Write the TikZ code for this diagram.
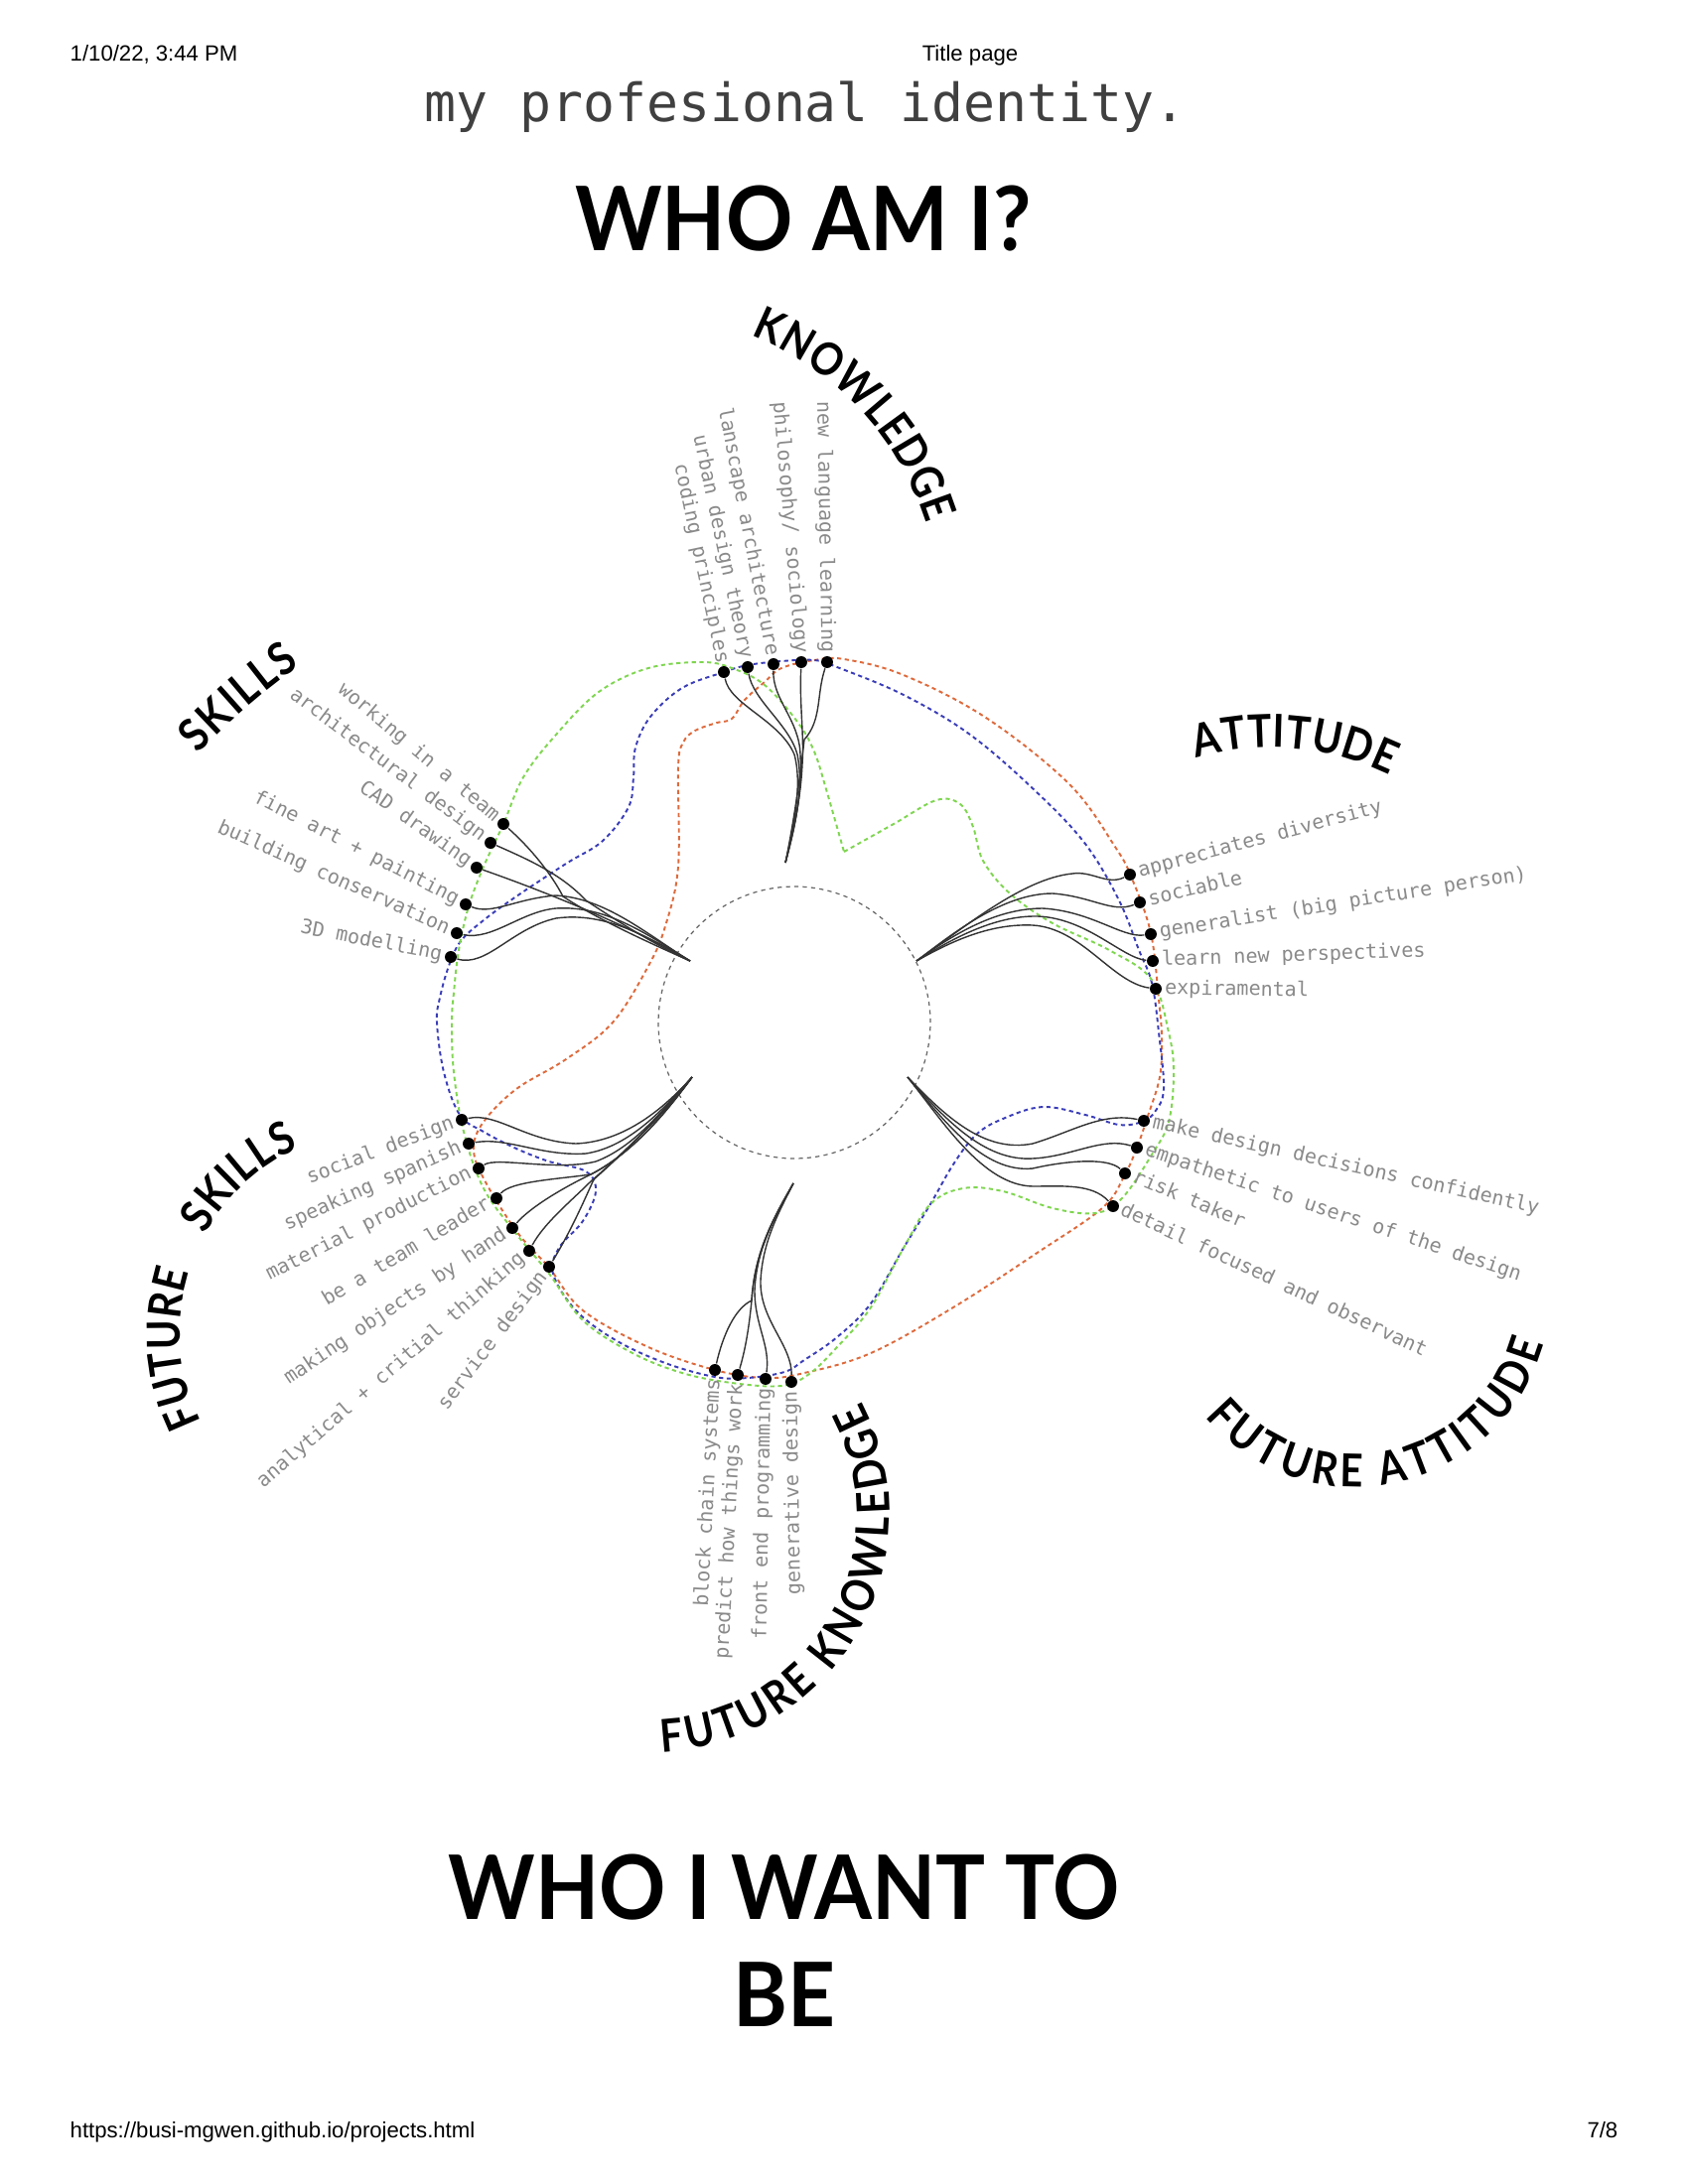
\documentclass[tikz,border=0pt]{standalone}
\usepackage{fontspec}
\setmainfont{Liberation Sans}
\newfontfamily\titlefnt{Lato}
\newfontfamily\arcfnt{Lato}[FakeStretch=0.88]
\newfontfamily\monofnt{DejaVu Sans Mono}
\usetikzlibrary{decorations.text}
\definecolor{bgreen}{HTML}{7FD650}
\definecolor{bblue}{HTML}{3A3DB8}
\definecolor{borange}{HTML}{DE6A3C}
\newcommand\arcfmt{\arcfnt\bfseries\fontsize{13}{15}\selectfont}
\begin{document}
\begin{tikzpicture}[x=0.01cm,y=-0.01cm,
  kdot/.style={circle,fill=black,inner sep=0pt,minimum size=3.4pt},
  lbl/.style={font=\monofnt\fontsize{5.7}{7}\selectfont,text=black!46,inner sep=2.6pt,outer sep=0pt,text height=3.6pt,text depth=0.6pt},
  fan/.style={draw=black!80,line width=0.4pt},
  blob/.style={line width=0.55pt,dash pattern=on 1.2pt off 1pt},
  big/.style={font=\titlefnt\bfseries\fontsize{25.5}{30}\selectfont,xscale=0.93,inner sep=0pt},
  hdr/.style={font=\fontsize{6.3}{8}\selectfont,inner sep=0pt},
  arctext/.style={decorate,decoration={text along path,text align={fit to path},text={|\arcfmt|#1}}}]
\fill[white] (0,0) rectangle (1700,2200);
\useasboundingbox (0,0) rectangle (1700,2200);

% header / footer
\node[hdr,anchor=base west] (date) at (70,62) {1/10/22, 3:44 PM};
\node[hdr,anchor=base] (ttl) at (977,62) {Title page};
\node[hdr,anchor=base west] (url) at (70,2153) {https://busi-mgwen.github.io/projects.html};
\node[hdr,anchor=base east] (pg) at (1630,2153) {7/8};

% titles
\node[font=\monofnt\fontsize{15.1}{18}\selectfont,text=black!75,anchor=base,inner sep=0pt] (sub) at (811,123) {my profesional identity.};
\node[big,anchor=base] (who) at (809,252) {WHO AM I?};
\node[big,anchor=base] (want) at (790,1933) {WHO I WANT TO};
\node[big,anchor=base] (be) at (790,2041) {BE};

% blobs
\draw[blob,borange] plot[smooth cycle,tension=0.6] coordinates {(787,673) (820,665) (850,664) (910,680) (993,723) (1077,790) (1123,853) (1140,885) (1159,940) (1167,1007) (1170,1045) (1168,1085) (1155,1127) (1145,1156) (1132,1185) (1110,1217) (1043,1263) (960,1317) (877,1363) (810,1383) (770,1388) (720,1380) (653,1357) (587,1320) (553,1277) (520,1240) (487,1187) (477,1157) (487,1130) (520,1097) (570,1067) (617,1030) (653,973) (670,933) (683,873) (683,773) (688,748) (700,736) (722,728) (737,724) (750,705) (770,687)};
\draw[blob,bblue] plot[smooth cycle,tension=0.6] coordinates {(687,693) (729,677) (753,670) (787,666) (820,665) (843,672) (910,700) (977,740) (1043,797) (1093,850) (1127,907) (1147,957) (1160,990) (1167,1040) (1172,1097) (1163,1120) (1150,1130) (1127,1133) (1093,1123) (1050,1115) (1010,1127) (983,1143) (960,1173) (937,1213) (910,1257) (877,1313) (843,1347) (810,1370) (790,1382) (753,1388) (720,1387) (670,1373) (620,1350) (580,1320) (557,1283) (563,1257) (587,1230) (600,1200) (590,1180) (553,1170) (520,1157) (487,1140) (463,1123) (447,1080) (440,1030) (443,1005) (452,973) (464,948) (487,927) (520,903) (570,870) (607,847) (633,813) (638,783) (640,753) (655,722)};
\draw[blob,bgreen] plot[smooth,tension=0.6] coordinates {(850,858) (900,830) (943,806) (967,810) (980,833) (990,867) (1017,900) (1060,930) (1117,957) (1160,987) (1177,1040) (1182,1080) (1177,1130) (1160,1163) (1130,1207) (1103,1222) (1060,1217) (1010,1200) (970,1197) (937,1213) (910,1257) (877,1317) (843,1357) (815,1384) (787,1396) (737,1393) (687,1383) (637,1363) (587,1330) (553,1283) (520,1243) (487,1197) (467,1140) (457,1080) (455,1030) (457,1000) (462,957) (472,913) (487,873) (507,830) (527,783) (560,740) (603,697) (653,673) (707,667) (737,673) (770,690) (803,727) (820,757) (832,795) (850,858)};

% core circle
\node[circle,draw=black!60,line width=0.35pt,dash pattern=on 1.2pt off 1.2pt,minimum size=77.9pt,inner sep=0pt] (core) at (800,1030) {};

% ---------- KNOWLEDGE ----------
\node[kdot] (k1) at (729,677) {};
\node[kdot] (k2) at (753,672) {};
\node[kdot] (k3) at (779,669) {};
\node[kdot] (k4) at (807,667) {};
\node[kdot] (k5) at (833,667) {};
\coordinate (kt) at (791,869);
\draw[fan] (k1) .. controls (735,710) and (785,725) .. (800,760) .. controls (808,790) and (800,830) .. (kt);
\draw[fan] (k2) .. controls (758,705) and (795,730) .. (803,760) .. controls (810,795) and (800,835) .. (kt);
\draw[fan] (k3) .. controls (778,705) and (805,725) .. (806,760) .. controls (808,800) and (800,835) .. (kt);
\draw[fan] (k4) .. controls (805,710) and (810,740) .. (808,770) .. controls (806,810) and (798,840) .. (kt);
\draw[fan] (k5) .. controls (822,700) and (828,725) .. (810,745) .. controls (805,790) and (798,835) .. (kt);
\node[lbl,rotate=-78,anchor=east] (k1l) at (k1.center) {coding principles};
\node[lbl,rotate=-78,anchor=east] (k2l) at (k2.center) {urban design theory};
\node[lbl,rotate=-79,anchor=east] (k3l) at (k3.center) {lanscape architecture};
\node[lbl,rotate=-85,anchor=east] (k4l) at (k4.center) {philosophy/ sociology};
\node[lbl,rotate=-89,anchor=east] (k5l) at (k5.center) {new language learning};
\path[arctext=KNOWLEDGE] ([shift={(646,618)}]-68.5:301) arc[start angle=-68.5,end angle=-17.5,radius=301];

% ---------- SKILLS ----------
\node[kdot] (s1) at (507,830) {};
\node[kdot] (s2) at (494,849) {};
\node[kdot] (s3) at (480,874) {};
\node[kdot] (s4) at (469,911) {};
\node[kdot] (s5) at (460,940) {};
\node[kdot] (s6) at (454,964) {};
\coordinate (st) at (695,968);
\draw[fan] (s1) .. controls (535,855) and (555,880) .. (567,903) .. controls (600,925) and (650,948) .. (st);
\draw[fan] (s2) .. controls (530,865) and (565,880) .. (590,907) .. controls (625,930) and (660,952) .. (st);
\draw[fan] (s3) .. controls (540,895) and (630,930) .. (st);
\draw[fan] (s4) .. controls (495,922) and (520,905) .. (560,902) .. controls (610,905) and (650,940) .. (st);
\draw[fan] (s5) .. controls (495,948) and (525,918) .. (560,915) .. controls (610,912) and (650,940) .. (st);
\draw[fan] (s6) .. controls (490,975) and (515,935) .. (560,925) .. controls (610,918) and (655,945) .. (st);
\node[lbl,rotate=-40,anchor=east] (s1l) at (s1.center) {working in a team};
\node[lbl,rotate=-37,anchor=east] (s2l) at (s2.center) {architectural design};
\node[lbl,rotate=-35,anchor=east] (s3l) at (s3.center) {CAD drawing};
\node[lbl,rotate=-27,anchor=east] (s4l) at (s4.center) {fine art + painting};
\node[lbl,rotate=-24,anchor=east] (s5l) at (s5.center) {building conservation};
\node[lbl,rotate=-11,anchor=east] (s6l) at (s6.center) {3D modelling};
\path[arctext=SKILLS] ([shift={(678,1206)}]-137:654) arc[start angle=-137,end angle=-125,radius=654];

% ---------- ATTITUDE ----------
\node[kdot] (a1) at (1138,881) {};
\node[kdot] (a2) at (1148,909) {};
\node[kdot] (a3) at (1159,941) {};
\node[kdot] (a4) at (1161,968) {};
\node[kdot] (a5) at (1164,996) {};
\coordinate (at) at (923,968);
\draw[fan] (a1) .. controls (1115,892) and (1100,877) .. (1080,880) .. controls (1030,885) and (970,935) .. (at);
\draw[fan] (a2) .. controls (1120,920) and (1100,903) .. (1060,900) .. controls (1010,900) and (960,940) .. (at);
\draw[fan] (a3) .. controls (1130,945) and (1100,918) .. (1050,915) .. controls (1000,915) and (955,945) .. (at);
\draw[fan] (a4) .. controls (1130,965) and (1095,925) .. (1045,923) .. controls (1000,922) and (955,948) .. (at);
\draw[fan] (a5) .. controls (1120,990) and (1090,935) .. (1040,932) .. controls (995,930) and (955,950) .. (at);
\node[lbl,rotate=15,anchor=west] (a1l) at (a1.center) {appreciates diversity};
\node[lbl,rotate=13,anchor=west] (a2l) at (a2.center) {sociable};
\node[lbl,rotate=9,anchor=west] (a3l) at (a3.center) {generalist (big picture person)};
\node[lbl,rotate=2,anchor=west] (a4l) at (a4.center) {learn new perspectives};
\node[lbl,rotate=-1,anchor=west] (a5l) at (a5.center) {expiramental};
\path[arctext=ATTITUDE] ([shift={(1280,1027)}]-105.9:274) arc[start angle=-105.9,end angle=-64.1,radius=274];

% ---------- FUTURE SKILLS ----------
\node[kdot] (f1) at (465,1128) {};
\node[kdot] (f2) at (472,1152) {};
\node[kdot] (f3) at (482,1177) {};
\node[kdot] (f4) at (500,1207) {};
\node[kdot] (f5) at (516,1237) {};
\node[kdot] (f6) at (533,1260) {};
\node[kdot] (f7) at (553,1276) {};
\coordinate (ft) at (697,1085);
\draw[fan] (f1) .. controls (500,1120) and (530,1150) .. (580,1152) .. controls (630,1150) and (670,1115) .. (ft);
\draw[fan] (f2) .. controls (510,1145) and (545,1165) .. (590,1162) .. controls (635,1155) and (670,1115) .. (ft);
\draw[fan] (f3) .. controls (500,1165) and (560,1180) .. (600,1170) .. controls (640,1155) and (670,1115) .. (ft);
\draw[fan] (f4) .. controls (515,1190) and (560,1188) .. (595,1183) .. controls (640,1160) and (675,1115) .. (ft);
\draw[fan] (f5) .. controls (535,1215) and (570,1195) .. (595,1183) .. controls (640,1160) and (675,1115) .. (ft);
\draw[fan] (f6) .. controls (548,1232) and (575,1210) .. (595,1190) .. controls (630,1160) and (675,1115) .. (ft);
\draw[fan] (f7) .. controls (575,1240) and (588,1210) .. (598,1188) .. controls (630,1160) and (675,1115) .. (ft);
\node[lbl,rotate=21,anchor=east] (f1l) at (f1.center) {social design};
\node[lbl,rotate=24,anchor=east] (f2l) at (f2.center) {speaking spanish};
\node[lbl,rotate=27,anchor=east] (f3l) at (f3.center) {material production};
\node[lbl,rotate=31,anchor=east] (f4l) at (f4.center) {be a team leader};
\node[lbl,rotate=34,anchor=east] (f5l) at (f5.center) {making objects by hand};
\node[lbl,rotate=41,anchor=east] (f6l) at (f6.center) {analytical + critial thinking};
\node[lbl,rotate=53,anchor=east] (f7l) at (f7.center) {service design};
\path[arctext=FUTURE] ([shift={(384,1342)}]-206.5:203) arc[start angle=-206.5,end angle=-162.7,radius=203];
\path[arctext=SKILLS] ([shift={(384,1342)}]-151:203) arc[start angle=-151,end angle=-114.2,radius=203];

% ---------- FUTURE KNOWLEDGE ----------
\node[kdot] (g1) at (720,1380) {};
\node[kdot] (g2) at (743,1385) {};
\node[kdot] (g3) at (771,1389) {};
\node[kdot] (g4) at (797,1392) {};
\coordinate (gt) at (799,1192);
\draw[fan] (g1) .. controls (728,1345) and (740,1318) .. (757,1310) .. controls (760,1260) and (780,1225) .. (gt);
\draw[fan] (g2) .. controls (752,1355) and (755,1330) .. (757,1310) .. controls (760,1260) and (780,1225) .. (gt);
\draw[fan] (g3) .. controls (776,1355) and (760,1335) .. (760,1300) .. controls (762,1255) and (782,1225) .. (gt);
\draw[fan] (g4) .. controls (798,1355) and (765,1330) .. (766,1290) .. controls (768,1250) and (785,1220) .. (gt);
\node[lbl,rotate=87,anchor=east] (g1l) at (g1.center) {block chain systems};
\node[lbl,rotate=87,anchor=east] (g2l) at (g2.center) {predict how things work};
\node[lbl,rotate=89,anchor=east] (g3l) at (g3.center) {front end programming};
\node[lbl,rotate=91,anchor=east] (g4l) at (g4.center) {generative design};
\path[arctext=FUTURE KNOWLEDGE] ([shift={(656,1525)}]87.4:240) arc[start angle=87.4,end angle=-28.1,radius=240];

% ---------- FUTURE ATTITUDE ----------
\node[kdot] (h1) at (1152,1129) {};
\node[kdot] (h2) at (1145,1156) {};
\node[kdot] (h3) at (1133,1182) {};
\node[kdot] (h4) at (1121,1215) {};
\coordinate (ht) at (914,1085);
\draw[fan] (h1) .. controls (1110,1120) and (1080,1140) .. (1040,1152) .. controls (990,1162) and (950,1122) .. (ht);
\draw[fan] (h2) .. controls (1110,1145) and (1080,1165) .. (1040,1167) .. controls (990,1170) and (950,1125) .. (ht);
\draw[fan] (h3) .. controls (1115,1165) and (1070,1170) .. (1040,1177) .. controls (990,1182) and (950,1128) .. (ht);
\draw[fan] (h4) .. controls (1100,1192) and (1070,1195) .. (1040,1195) .. controls (990,1194) and (950,1130) .. (ht);
\node[lbl,rotate=-12.6,anchor=west] (h1l) at (h1.center) {make design decisions confidently};
\node[lbl,rotate=-18.5,anchor=west] (h2l) at (h2.center) {empathetic to users of the design};
\node[lbl,rotate=-22.8,anchor=west] (h3l) at (h3.center) {risk taker};
\node[lbl,rotate=-25,anchor=west] (h4l) at (h4.center) {detail focused and observant};
\path[arctext=FUTURE ATTITUDE] ([shift={(1365,1301)}]140:197) arc[start angle=140,end angle=15.6,radius=197];
\end{tikzpicture}
\end{document}
